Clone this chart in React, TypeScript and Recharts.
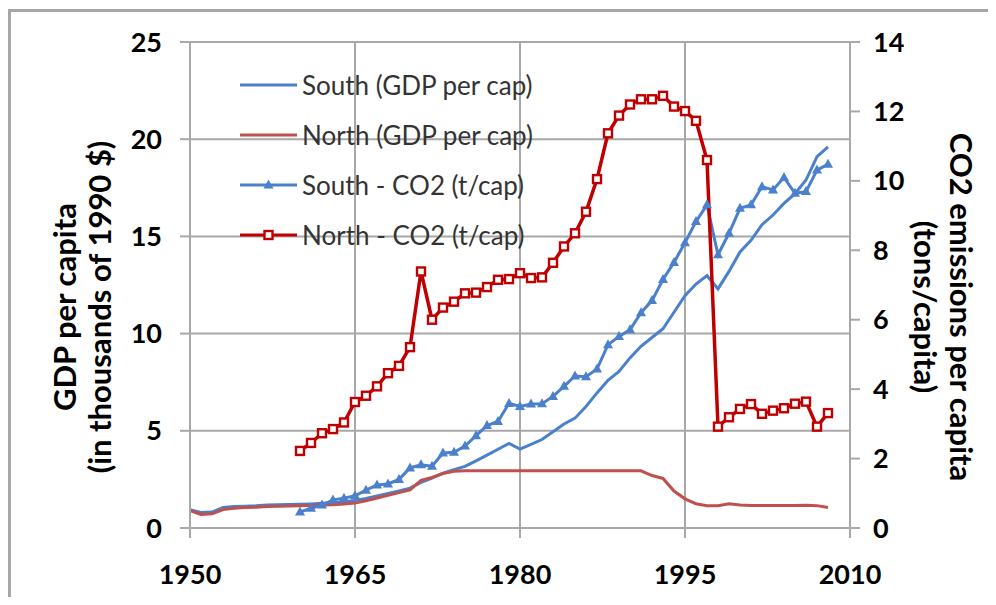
import { CartesianGrid, Label, Legend, Line, LineChart, XAxis, YAxis } from "recharts";

const years = [
  1950, 1951, 1952, 1953, 1954, 1955, 1956, 1957, 1958, 1959,
  1960, 1961, 1962, 1963, 1964, 1965, 1966, 1967, 1968, 1969,
  1970, 1971, 1972, 1973, 1974, 1975, 1976, 1977, 1978, 1979,
  1980, 1981, 1982, 1983, 1984, 1985, 1986, 1987, 1988, 1989,
  1990, 1991, 1992, 1993, 1994, 1995, 1996, 1997, 1998, 1999,
  2000, 2001, 2002, 2003, 2004, 2005, 2006, 2007, 2008,
];

// GDP per capita, thousands of 1990 $
const southGdp = [
  0.94, 0.8, 0.82, 1.05, 1.1, 1.12, 1.14, 1.18, 1.2, 1.21,
  1.22, 1.24, 1.27, 1.3, 1.35, 1.42, 1.52, 1.65, 1.78, 1.9,
  2.05, 2.35, 2.56, 2.82, 3.0, 3.17, 3.45, 3.75, 4.05, 4.35,
  4.06, 4.3, 4.55, 4.95, 5.35, 5.65, 6.25, 6.95, 7.6, 8.05,
  8.75, 9.35, 9.8, 10.25, 11.1, 11.95, 12.55, 12.98, 12.3, 13.2,
  14.2, 14.8, 15.6, 16.1, 16.7, 17.2, 17.9, 19.1, 19.6,
];

const northGdp = [
  0.89, 0.7, 0.73, 0.95, 1.02, 1.05, 1.07, 1.1, 1.12, 1.13,
  1.14, 1.16, 1.18, 1.2, 1.24, 1.28, 1.4, 1.54, 1.68, 1.82,
  1.96, 2.45, 2.6, 2.8, 2.92, 2.94, 2.94, 2.94, 2.94, 2.94,
  2.94, 2.94, 2.94, 2.94, 2.94, 2.94, 2.94, 2.94, 2.94, 2.94,
  2.94, 2.94, 2.7, 2.55, 1.9, 1.5, 1.25, 1.15, 1.15, 1.25,
  1.18, 1.16, 1.16, 1.16, 1.16, 1.16, 1.17, 1.15, 1.05,
];

// CO2 emissions, tons per capita (from 1960)
const co2Years = [
  1960, 1961, 1962, 1963, 1964, 1965, 1966, 1967, 1968, 1969,
  1970, 1971, 1972, 1973, 1974, 1975, 1976, 1977, 1978, 1979,
  1980, 1981, 1982, 1983, 1984, 1985, 1986, 1987, 1988, 1989,
  1990, 1991, 1992, 1993, 1994, 1995, 1996, 1997, 1998, 1999,
  2000, 2001, 2002, 2003, 2004, 2005, 2006, 2007, 2008,
];

const southCo2 = [
  0.46, 0.57, 0.66, 0.81, 0.86, 0.93, 1.09, 1.24, 1.27, 1.4,
  1.73, 1.82, 1.78, 2.16, 2.18, 2.36, 2.66, 2.95, 3.07, 3.59,
  3.5, 3.57, 3.58, 3.79, 4.08, 4.38, 4.36, 4.58, 5.28, 5.52,
  5.71, 6.2, 6.55, 7.16, 7.65, 8.22, 8.83, 9.31, 7.87, 8.49,
  9.21, 9.31, 9.83, 9.74, 10.1, 9.64, 9.69, 10.31, 10.48,
];

const northCo2 = [
  2.22, 2.45, 2.73, 2.85, 3.04, 3.63, 3.81, 4.08, 4.46, 4.67,
  5.21, 7.39, 6.0, 6.35, 6.52, 6.76, 6.78, 6.94, 7.15, 7.17,
  7.34, 7.2, 7.22, 7.64, 8.11, 8.49, 9.11, 10.05, 11.37, 11.88,
  12.2, 12.35, 12.35, 12.45, 12.14, 12.01, 11.73, 10.6, 2.92, 3.19,
  3.43, 3.57, 3.29, 3.38, 3.45, 3.58, 3.64, 2.92, 3.31,
];

const xTicks = [1950, 1965, 1980, 1995, 2010];
const gdpTicks = [0, 5, 10, 15, 20, 25];
const co2Ticks = [0, 2, 4, 6, 8, 10, 12, 14];
const legendOrder = ["southGdp", "northGdp", "southCo2", "northCo2"];

const data = years.map((year, i) => {
  const j = co2Years.indexOf(year);
  return {
    year,
    southGdp: southGdp[i],
    northGdp: northGdp[i],
    southCo2: j >= 0 ? southCo2[j] : null,
    northCo2: j >= 0 ? northCo2[j] : null,
  };
});

const BLUE = "#4a80cc";
const RED = "#c0504d";
const DARK_RED = "#c00000";
const GRID = "#a8a8a8";
const FONT = "Lato, 'Open Sans', sans-serif";

const tickStyle = { fill: "#000", fontSize: 27, fontWeight: 700, fontFamily: FONT };
const titleStyle = { fontFamily: FONT, fontSize: 31, fontWeight: 700, fill: "#000" };

const Square = (props: any) => {
  const { cx, cy, index } = props;
  if (cx == null || cy == null) return <g key={`sq-${index}`} />;
  return (
    <rect
      key={`sq-${index}`}
      x={cx - 4}
      y={cy - 4}
      width={8}
      height={8}
      fill="#fff"
      stroke={DARK_RED}
      strokeWidth={2.4}
    />
  );
};

const Triangle = (props: any) => {
  const { cx, cy, index } = props;
  if (cx == null || cy == null) return <g key={`tr-${index}`} />;
  return (
    <path
      key={`tr-${index}`}
      d={`M${cx},${cy - 5.5}L${cx + 5},${cy + 3.5}L${cx - 5},${cy + 3.5}Z`}
      fill={BLUE}
    />
  );
};

function LegendBox({ payload }: any) {
  const items = [...(payload ?? [])].sort(
    (a: any, b: any) => legendOrder.indexOf(a.dataKey) - legendOrder.indexOf(b.dataKey),
  );
  return (
    <div>
      {items.map((entry: any) => (
        <div key={entry.dataKey} style={{ display: "flex", alignItems: "center", height: 50 }}>
          <svg width={62} height={20}>
            <line x1={0} y1={10} x2={57} y2={10} stroke={entry.color} strokeWidth={3} />
            {entry.dataKey === "southCo2" && <Triangle cx={28.5} cy={10} index={0} />}
            {entry.dataKey === "northCo2" && <Square cx={28.5} cy={10} index={0} />}
          </svg>
          <span style={{ fontFamily: FONT, fontSize: 26, color: "#333", whiteSpace: "nowrap" }}>
            {entry.value}
          </span>
        </div>
      ))}
    </div>
  );
}

const LeftTitle = (props: any) => {
  const { x, y, height } = props.viewBox;
  const cy = y + height / 2 + 22;
  return (
    <g>
      <text x={x + 56} y={cy} transform={`rotate(-90 ${x + 56} ${cy})`} textAnchor="middle" dominantBaseline="central" style={titleStyle}>
        GDP per capita
      </text>
      <text x={x + 91} y={cy} transform={`rotate(-90 ${x + 91} ${cy})`} textAnchor="middle" dominantBaseline="central" style={titleStyle}>
        (in thousands of 1990 $)
      </text>
    </g>
  );
};

const RightTitle = (props: any) => {
  const { x, y, height } = props.viewBox;
  const cy = y + height / 2 + 22;
  return (
    <g>
      <text x={x + 76} y={cy} transform={`rotate(90 ${x + 76} ${cy})`} textAnchor="middle" dominantBaseline="central" style={titleStyle}>
        (tons/capita)
      </text>
      <text x={x + 112} y={cy} transform={`rotate(90 ${x + 112} ${cy})`} textAnchor="middle" dominantBaseline="central" style={titleStyle}>
        CO2 emissions per capita
      </text>
    </g>
  );
};

export default function App() {
  return (
    <div style={{ position: "relative", width: 980, height: 589, overflow: "hidden" }}>
      <div
        style={{
          position: "absolute",
          left: 0,
          top: 1,
          width: 990,
          height: 600,
          borderLeft: "3px solid #a6a6a6",
          borderTop: "3px solid #a6a6a6",
        }}
      />
      <LineChart width={980} height={589} data={data} margin={{ top: 34, right: 0, bottom: 9, left: 0 }}>
        <CartesianGrid yAxisId="left" stroke={GRID} strokeWidth={2} />
        <XAxis
          dataKey="year"
          type="number"
          domain={[1950, 2010]}
          ticks={xTicks}
          height={60}
          tickSize={10}
          tickMargin={27}
          tick={tickStyle}
          axisLine={{ stroke: GRID, strokeWidth: 2 }}
          tickLine={{ stroke: GRID, strokeWidth: 2 }}
        />
        <YAxis
          yAxisId="left"
          domain={[0, 25]}
          ticks={gdpTicks}
          width={182}
          tickSize={10}
          tickMargin={18}
          tick={tickStyle}
          axisLine={{ stroke: GRID, strokeWidth: 2 }}
          tickLine={{ stroke: GRID, strokeWidth: 2 }}
        >
          <Label content={LeftTitle} />
        </YAxis>
        <YAxis
          yAxisId="right"
          orientation="right"
          domain={[0, 14]}
          ticks={co2Ticks}
          width={138}
          tickSize={10}
          tickMargin={13}
          tick={tickStyle}
          axisLine={{ stroke: GRID, strokeWidth: 2 }}
          tickLine={{ stroke: GRID, strokeWidth: 2 }}
        >
          <Label content={RightTitle} />
        </YAxis>
        <Legend
          layout="vertical"
          align="center"
          verticalAlign="middle"
          content={<LegendBox />}
          wrapperStyle={{ left: 232, top: 52, width: 340 }}
        />
        <Line
          yAxisId="left"
          dataKey="southGdp"
          name="South (GDP per cap)"
          stroke={BLUE}
          strokeWidth={3}
          dot={false}
          activeDot={false}
          isAnimationActive={false}
        />
        <Line
          yAxisId="left"
          dataKey="northGdp"
          name="North (GDP per cap)"
          stroke={RED}
          strokeWidth={3}
          dot={false}
          activeDot={false}
          isAnimationActive={false}
        />
        <Line
          yAxisId="right"
          dataKey="southCo2"
          name="South - CO2 (t/cap)"
          stroke={BLUE}
          strokeWidth={3}
          dot={Triangle}
          activeDot={false}
          isAnimationActive={false}
        />
        <Line
          yAxisId="right"
          dataKey="northCo2"
          name="North - CO2 (t/cap)"
          stroke={DARK_RED}
          strokeWidth={3.5}
          dot={Square}
          activeDot={false}
          isAnimationActive={false}
        />
      </LineChart>
    </div>
  );
}
